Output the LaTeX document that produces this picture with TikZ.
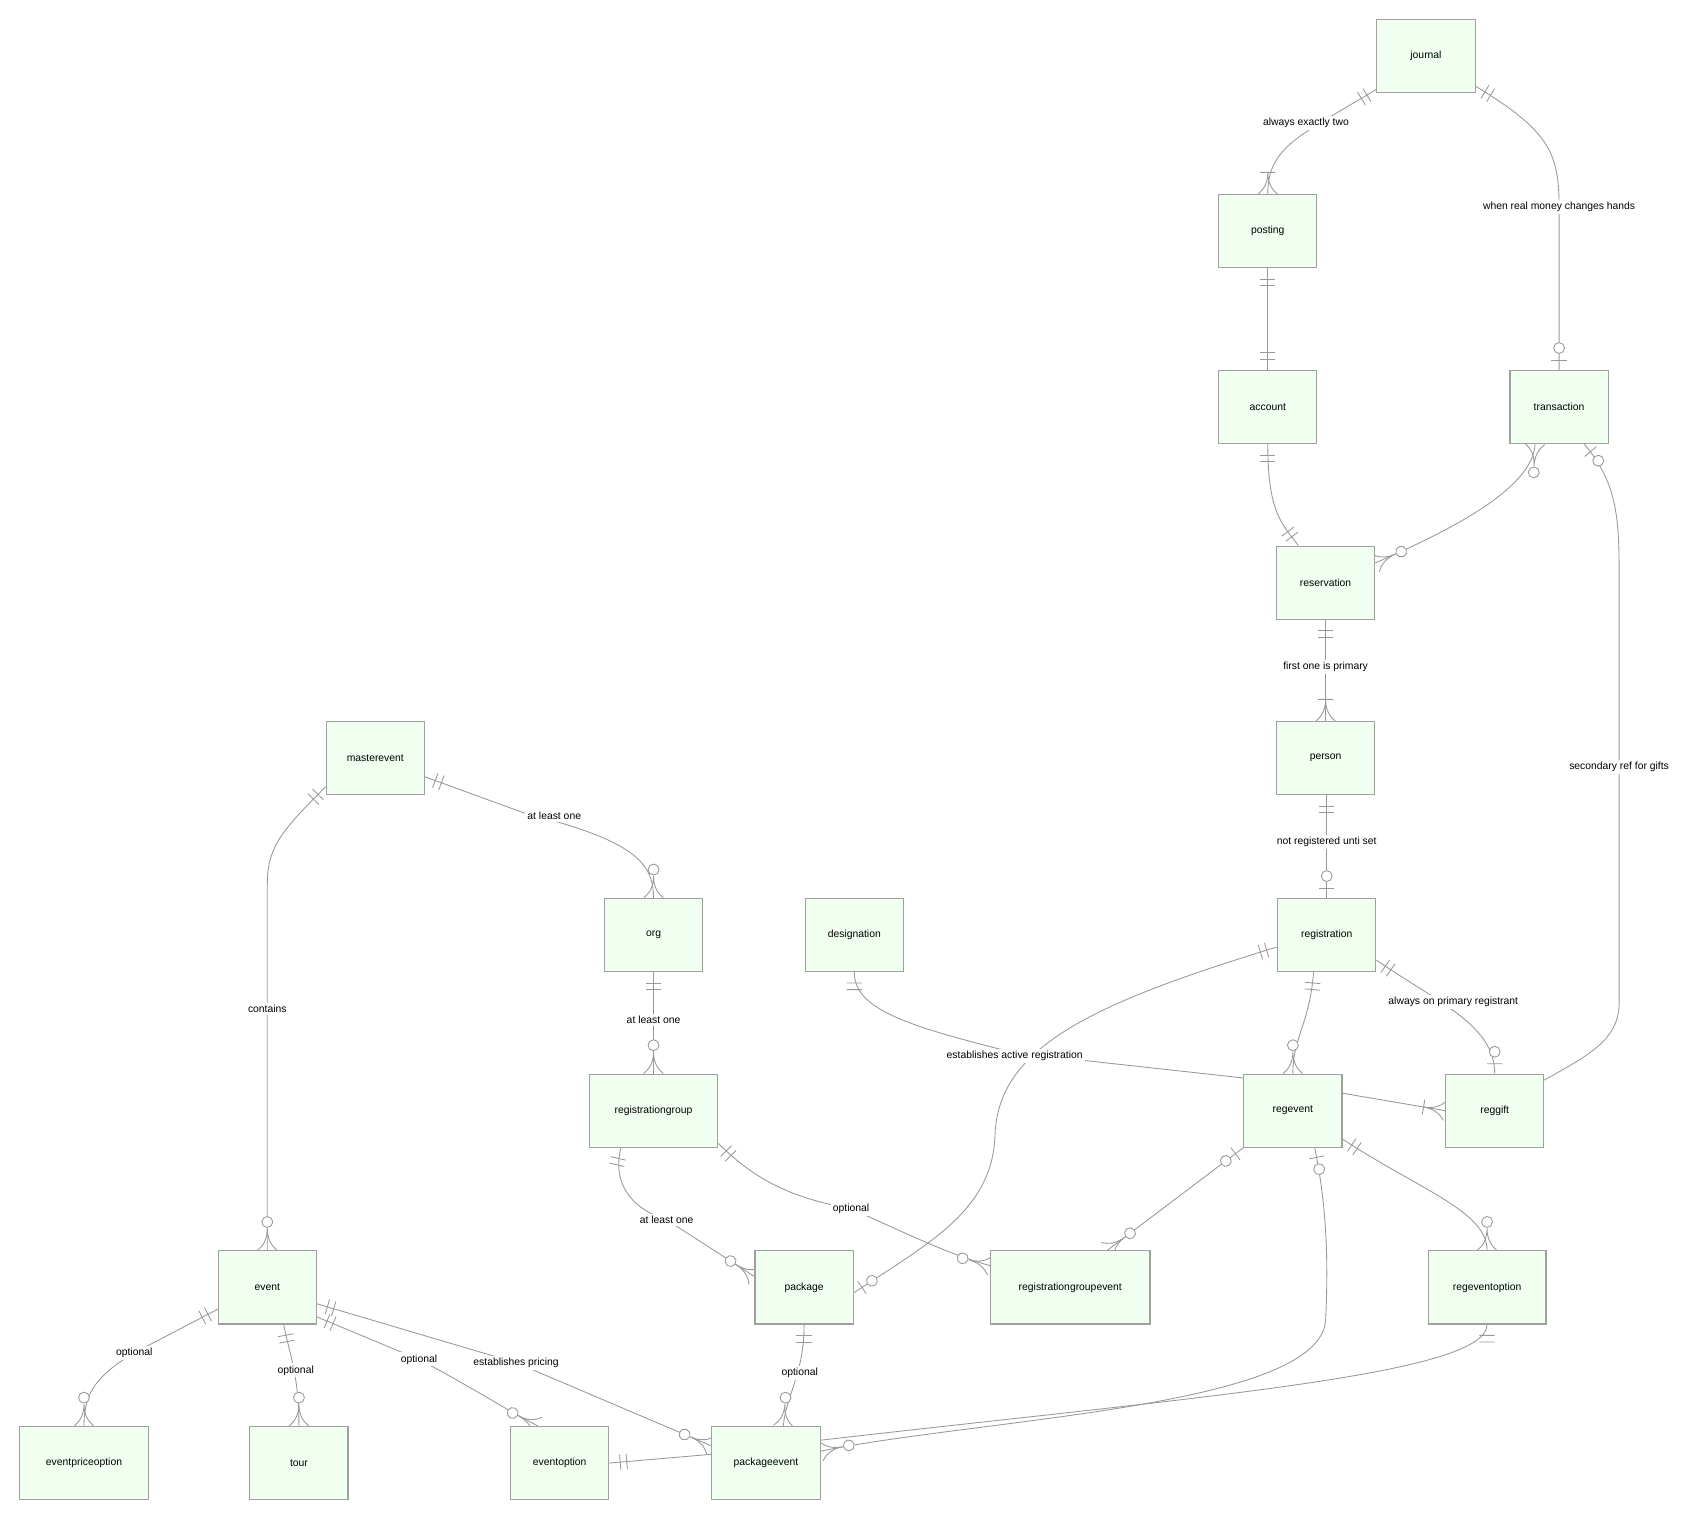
\documentclass[tikz,border=0pt]{standalone}
\usepackage{fontspec}
\setmainfont{Liberation Sans}
\usetikzlibrary{decorations.markings}
\pgfdeclarelayer{bg}
\pgfsetlayers{bg,main}
\definecolor{lc}{HTML}{999999}
\definecolor{bf}{HTML}{F0FFF0}
\definecolor{bd}{HTML}{A0A0A0}
\newcommand{\mkone}{\draw[lc,line width=0.8pt] (-10,-7)--(-10,7) (-16,-7)--(-16,7);}
\newcommand{\mkzo}{\draw[lc,line width=0.8pt] (-9,-7)--(-9,7); \draw[lc,line width=0.8pt,fill=white] (-20,0) circle (5);}
\newcommand{\mkmany}{\draw[lc,line width=0.8pt] (0,9) .. controls (-4,4) and (-10,0) .. (-20,0) .. controls (-10,0) and (-4,-4) .. (0,-9) (-20,-7)--(-20,7);}
\newcommand{\mkzm}{\draw[lc,line width=0.8pt] (0,9) .. controls (-4,4) and (-10,0) .. (-20,0) .. controls (-10,0) and (-4,-4) .. (0,-9); \draw[lc,line width=0.8pt,fill=white] (-26,0) circle (5);}
\tikzset{
  x=1pt,y=-1pt,
  box/.style={draw=bd,fill=bf,line width=1pt,minimum width=90pt,minimum height=67pt,inner sep=0pt,font=\fontsize{9.5}{11}\selectfont},
  rel/.style={draw=lc,line width=0.8pt},
  lab/.style={fill=white,inner sep=2pt,font=\fontsize{9.5}{11}\selectfont},
  s/.style={postaction={decorate,decoration={markings,mark=at position 0 with {\begin{scope}[rotate=180]\csname mk#1\endcsname\end{scope}}}}},
  t/.style={postaction={decorate,decoration={markings,mark=at position 1 with {\csname mk#1\endcsname}}}},
}
\begin{document}
\begin{tikzpicture}
\useasboundingbox (0,0) rectangle (1560,1396);
\node[box] (journal) at (1307,51) {journal};
\node[box] (posting) at (1162,212) {posting};
\node[box] (account) at (1162,373) {account};
\node[box] (transaction) at (1429,373) {transaction};
\node[box] (reservation) at (1215,534) {reservation};
\node[box] (person) at (1215,695) {person};
\node[box] (masterevent) at (344,695) {masterevent};
\node[box] (org) at (599,857) {org};
\node[box] (designation) at (783,857) {designation};
\node[box] (registration) at (1216,857) {registration};
\node[box,minimum width=118pt] (registrationgroup) at (599,1018) {registrationgroup};
\node[box] (regevent) at (1185,1018) {regevent};
\node[box] (reggift) at (1370,1018) {reggift};
\node[box] (event) at (245,1180) {event};
\node[box] (package) at (737,1180) {package};
\node[box,minimum width=146pt] (registrationgroupevent) at (981,1180) {registrationgroupevent};
\node[box,minimum width=108pt] (regeventoption) at (1363,1180) {regeventoption};
\node[box,minimum width=118pt] (eventpriceoption) at (77,1341) {eventpriceoption};
\node[box] (tour) at (274,1341) {tour};
\node[box] (eventoption) at (513,1341) {eventoption};
\node[box,minimum width=100pt] (packageevent) at (702,1341) {packageevent};

\begin{pgfonlayer}{bg}
\path[rel,s=one,t=many] ([yshift=-31pt]journal.west) .. controls (1190,125) and (1162,135) .. (posting.north);
\path[rel,s=one,t=zo] ([yshift=-28pt]journal.east) .. controls (1420,120) and (1429,140) .. (1429,190) -- (transaction.north);
\path[rel,s=one,t=one] (posting.south) -- (account.north);
\path[rel,s=one,t=one] (account.south) .. controls (1162,470) and (1175,480) .. ([xshift=-25pt]reservation.north);
\path[rel,s=zm,t=zm] ([xshift=-22pt]transaction.south) .. controls (1405,450) and (1320,490) .. ([yshift=18pt]reservation.east);
\path[rel,s=zo,t=zo] ([xshift=23pt]transaction.south) .. controls (1480,440) and (1484,470) .. (1484,520) -- (1484,920) .. controls (1484,955) and (1450,970) .. ([yshift=-6pt]reggift.north east);
\path[rel,s=one,t=many] (reservation.south) -- (person.north);
\path[rel,s=one,t=zo] ([xshift=1pt]person.south) -- (registration.north);
\path[rel,s=one,t=zm] ([yshift=-17pt]masterevent.east) -- (480,745) .. controls (580,770) and (599,790) .. (org.north);
\path[rel,s=one,t=zm] ([yshift=8pt]masterevent.south west) .. controls (260,760) and (245,775) .. (245,810) -- (event.north);
\path[rel,s=one,t=zm] (org.south) -- (registrationgroup.north);
\path[rel,s=one] (designation.south) .. controls (783,925) and (830,940) .. (930,965) -- ([yshift=-4pt]regevent.north west);
\path[rel,s=one,t=zm] ([xshift=-12pt]registration.south) .. controls (1200,940) and (1185,950) .. (regevent.north);
\path[rel,s=one,t=zo] ([yshift=11pt]registration.south east) .. controls (1320,920) and (1370,940) .. (reggift.north);
\path[rel,s=one,t=zo] ([yshift=-11pt]registration.west) .. controls (1000,920) and (915,960) .. (912,1040) .. controls (910,1110) and (850,1140) .. ([yshift=-5pt]package.east);
\path[rel,t=many] ([yshift=16pt]regevent.east) -- (reggift.west);
\path[rel,s=one,t=zm] ([xshift=-30pt]registrationgroup.south) .. controls (560,1090) and (585,1110) .. (611,1118) -- ([yshift=10pt]package.west);
\path[rel,s=one,t=zm] ([yshift=4pt]registrationgroup.south east) .. controls (700,1090) and (740,1100) .. (780,1108) .. controls (830,1130) and (870,1150) .. ([yshift=20pt]registrationgroupevent.west);
\path[rel,s=zo,t=zm] (regevent.south west) -- ([xshift=34pt]registrationgroupevent.north);
\path[rel,s=one,t=zm] ([yshift=8pt]regevent.south east) .. controls (1300,1090) and (1363,1110) .. (regeventoption.north);
\path[rel,s=zo,t=zm] ([xshift=20pt]regevent.south) .. controls (1215,1100) and (1218,1150) .. (1215,1210) .. controls (1210,1290) and (900,1300) .. ([yshift=11pt]packageevent.east);
\path[rel,s=one,t=zm] ([yshift=14pt]event.south west) -- (123,1240) .. controls (90,1260) and (77,1275) .. (eventpriceoption.north);
\path[rel,s=one,t=zm] ([xshift=15pt]event.south) .. controls (265,1240) and (274,1260) .. (tour.north);
\path[rel,s=one,t=zm] ([yshift=7pt]event.south east) -- (384,1246) .. controls (430,1270) and (460,1290) .. ([xshift=-20pt]eventoption.north);
\path[rel,s=one,t=zm] ([yshift=-15pt]event.east) -- (473,1249) -- ([yshift=16pt]packageevent.west);
\path[rel,s=one,t=zm] (package.south) .. controls (737,1260) and (720,1280) .. ([xshift=16pt]packageevent.north);
\path[rel,s=one] (regeventoption.south) .. controls (1363,1260) and (1100,1280) .. ([yshift=21pt]packageevent.east);
\path[rel,s=one] (eventoption.east) -- ([yshift=8pt]packageevent.west);
\end{pgfonlayer}

\node[lab] (l1) at (1197,113) {always exactly two};
\node[lab] (l2) at (1429,190) {when real money changes hands};
\node[lab] (l3) at (1484,703) {secondary ref for gifts};
\node[lab] (l4) at (1215,611) {first one is primary};
\node[lab] (l5) at (1216,772) {not registered unti set};
\node[lab] (l6) at (508,748) {at least one};
\node[lab] (l7) at (245,925) {contains};
\node[lab] (l8) at (599,935) {at least one};
\node[lab] (l9) at (1332,918) {always on primary registrant};
\node[lab] (l10) at (930,968) {establishes active registration};
\node[lab] (l11) at (611,1118) {at least one};
\node[lab] (l12) at (780,1108) {optional};
\node[lab] (l13) at (123,1240) {optional};
\node[lab] (l14) at (271,1256) {optional};
\node[lab] (l15) at (384,1246) {optional};
\node[lab] (l16) at (473,1249) {establishes pricing};
\node[lab] (l17) at (733,1258) {optional};
\end{tikzpicture}
\end{document}
